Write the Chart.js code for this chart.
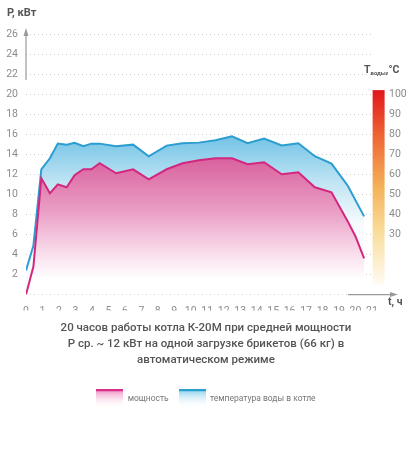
<!DOCTYPE html>
<html>
<head>
  <meta charset="utf-8">
  <title>Котёл К-20М</title>
  <script src="https://cdn.jsdelivr.net/npm/chart.js"></script>
  <style>
    html, body { margin: 0; padding: 0; background: #fff; }
    #wrap { width: 410px; height: 458px; }
  </style>
</head>
<body>
  <div id="wrap"><canvas id="chart"></canvas></div>

  <script>
    // hours of operation (readings taken off the curves)
    var hours = [0, 0.45, 0.93, 1.45, 1.93, 2.47, 2.95, 3.48, 3.97, 4.47, 5.47, 6.5, 7.45, 8.54, 9.5,
                 10.5, 11.5, 12.5, 13.45, 14.45, 15.52, 16.53, 17.53, 18.54, 19.53, 20.0, 20.52];
    // boiler power, kW (left scale)
    var powerKw = [0, 2.8, 11.6, 10.1, 11.0, 10.7, 11.9, 12.5, 12.5, 13.1, 12.1, 12.5, 11.5, 12.5, 13.1,
                   13.4, 13.6, 13.6, 13.0, 13.2, 12.0, 12.2, 10.7, 10.2, 7.3, 5.8, 3.6];
    // water temperature in the boiler, °C (right scale)
    var waterTempC = [12, 24.5, 62.5, 68, 75.3, 74.8, 75.7, 74, 75.3, 75.3, 74, 74.8, 69, 74.3, 75.5,
                      75.8, 77, 79, 75.5, 77.8, 74.4, 75.5, 69, 65.3, 54.3, 47, 39];

    var tempTicks = [30, 40, 50, 60, 70, 80, 90, 100];
    var legendLabels = ['мощность', 'температура воды в котле'];
    var titleLines = [
      '20 часов работы котла К-20М при средней мощности',
      'Р ср. ~ 12 кВт на одной загрузке брикетов (66 кг) в',
      'автоматическом режиме'
    ];

    Chart.defaults.font.family = 'Roboto';

    function points(ys) {
      return hours.map(function (h, i) { return { x: h, y: ys[i] }; });
    }

    function pinkFill(c) {
      var chart = c.chart;
      if (!chart.chartArea) return '#e98fbf';
      var y = chart.scales.y;
      var g = chart.ctx.createLinearGradient(0, y.getPixelForValue(13.5), 0, y.getPixelForValue(1.5));
      g.addColorStop(0, '#d9629e');
      g.addColorStop(0.45, '#eba1c7');
      g.addColorStop(0.8, '#fae1ee');
      g.addColorStop(1, '#ffffff');
      return g;
    }

    function blueFill(c) {
      var chart = c.chart;
      if (!chart.chartArea) return '#9fd6ee';
      var y = chart.scales.y;
      var g = chart.ctx.createLinearGradient(0, y.getPixelForValue(15.5), 0, y.getPixelForValue(7));
      g.addColorStop(0, '#78c5e7');
      g.addColorStop(0.5, '#bfe4f4');
      g.addColorStop(1, '#f7fbfd');
      return g;
    }

    // small gradient swatches for the legend
    function swatch(line, top) {
      var cv = document.createElement('canvas');
      cv.width = 27; cv.height = 19;
      var c = cv.getContext('2d');
      var g = c.createLinearGradient(0, 0, 0, 19);
      g.addColorStop(0, top);
      g.addColorStop(1, 'rgba(255,255,255,0)');
      c.fillStyle = g;
      c.fillRect(0, 0, 27, 19);
      c.fillStyle = line;
      c.fillRect(0, 0, 27, 2);
      return cv;
    }
    var swatches = [swatch('#d6308a', '#ef86bf'), swatch('#2a9fd0', '#86cfee')];

    var decor = {
      id: 'decor',
      afterDraw: function (chart) {
        var ctx = chart.ctx, a = chart.chartArea;
        var x = chart.scales.x, y = chart.scales.y, y1 = chart.scales.y1;
        ctx.save();

        // temperature colour bar
        var top = y1.getPixelForValue(102), bot = y1.getPixelForValue(5);
        var g = ctx.createLinearGradient(0, top, 0, bot);
        g.addColorStop(0, '#e0161c');
        g.addColorStop(0.25, '#ee6a36');
        g.addColorStop(0.5, '#f4b25a');
        g.addColorStop(0.72, '#f9dc98');
        g.addColorStop(1, '#fffbf3');
        ctx.fillStyle = g;
        ctx.fillRect(a.right + 0.6, top, 12, bot - top);

        // axis arrows
        ctx.strokeStyle = '#9a9a9a';
        ctx.fillStyle = '#9a9a9a';
        ctx.lineWidth = 1.2;
        var ax = x.getPixelForValue(0);
        ctx.beginPath();
        ctx.moveTo(ax, y.getPixelForValue(21.4));
        ctx.lineTo(ax, y.getPixelForValue(25.9));
        ctx.stroke();
        ctx.beginPath();
        ctx.moveTo(ax, y.getPixelForValue(26.6));
        ctx.lineTo(ax - 2.5, y.getPixelForValue(25.8));
        ctx.lineTo(ax + 2.5, y.getPixelForValue(25.8));
        ctx.fill();

        var ay = y.getPixelForValue(0);
        var xEnd = a.right + 26;
        ctx.beginPath();
        ctx.moveTo(x.getPixelForValue(19.55), ay);
        ctx.lineTo(xEnd - 7, ay);
        ctx.stroke();
        ctx.beginPath();
        ctx.moveTo(xEnd, ay);
        ctx.lineTo(xEnd - 8, ay - 2.5);
        ctx.lineTo(xEnd - 8, ay + 2.5);
        ctx.fill();

        // axis titles
        ctx.fillStyle = '#555';
        ctx.textBaseline = 'middle';
        ctx.textAlign = 'left';
        ctx.font = 'bold 11px Roboto';
        ctx.fillText('P, кВт', 7, 13);
        ctx.font = 'bold 10.5px Roboto';
        ctx.fillText('t, ч', a.right + 16, 302);

        var tx = 364;
        ctx.font = 'bold 10.5px Roboto';
        ctx.fillText('T', tx, 70);
        tx += ctx.measureText('T').width;
        ctx.font = 'bold 6px Roboto';
        ctx.fillText('воды', tx, 73.5);
        tx += ctx.measureText('воды').width;
        ctx.font = 'bold 10.5px Roboto';
        ctx.fillText(',°C', tx, 70);
        ctx.restore();
      }
    };

    function noPad(scale) {
      scale.paddingTop = 0;
      scale.paddingBottom = 0;
    }

    var ctx = document.getElementById('chart').getContext('2d');
    var chart = new Chart(ctx, {
      type: 'line',
      data: {
        datasets: [
          {
            label: legendLabels[0],
            data: points(powerKw),
            yAxisID: 'y',
            borderColor: '#d3277f',
            borderWidth: 2,
            pointRadius: 0,
            tension: 0,
            fill: 'origin',
            backgroundColor: pinkFill
          },
          {
            label: legendLabels[1],
            data: points(waterTempC),
            yAxisID: 'y1',
            borderColor: '#2b9dd0',
            borderWidth: 2,
            pointRadius: 0,
            tension: 0,
            fill: '-1',
            backgroundColor: blueFill
          }
        ]
      },
      options: {
        animation: false,
        responsive: true,
        maintainAspectRatio: false,
        layout: { padding: { left: 6, right: 4, top: 34, bottom: 45 } },
        scales: {
          x: {
            type: 'linear',
            min: 0,
            max: 21,
            grid: { display: false },
            border: { display: false },
            ticks: {
              stepSize: 1,
              autoSkip: false,
              maxRotation: 0,
              padding: 3,
              color: '#8c8c8c',
              font: { size: 10.5 }
            },
            afterFit: function (s) { s.paddingLeft = 0; s.paddingRight = 0; s.height = 16; }
          },
          y: {
            position: 'left',
            min: 0,
            max: 26,
            grid: { color: '#cdcdcd', lineWidth: 1, drawTicks: false },
            border: { display: false, dash: [1, 3] },
            ticks: {
              stepSize: 2,
              padding: 8,
              color: '#8c8c8c',
              font: { size: 10.5 },
              callback: function (v) { return v === 0 ? '' : v; }
            },
            afterFit: function (s) { noPad(s); s.width = 20; }
          },
          y1: {
            position: 'right',
            min: 0,
            max: 130,
            grid: { display: false, drawTicks: false },
            border: { display: false },
            afterBuildTicks: function (s) {
              s.ticks = tempTicks.map(function (v) { return { value: v }; });
            },
            ticks: {
              padding: 17,
              color: '#8c8c8c',
              font: { size: 10.5 }
            },
            afterFit: function (s) { noPad(s); s.width = 34; }
          }
        },
        plugins: {
          tooltip: { enabled: false },
          title: {
            display: true,
            position: 'bottom',
            text: titleLines,
            color: '#555',
            font: { size: 11.5, weight: '500', lineHeight: 1.39 },
            padding: { top: 10, bottom: 16 }
          },
          legend: {
            position: 'bottom',
            weight: 3000,
            labels: {
              usePointStyle: true,
              pointStyleWidth: 27,
              padding: 10,
              color: '#777',
              font: { size: 8.5 },
              generateLabels: function (ch) {
                return ch.data.datasets.map(function (d, i) {
                  return {
                    text: d.label,
                    pointStyle: swatches[i],
                    fillStyle: 'transparent',
                    strokeStyle: 'transparent',
                    lineWidth: 0,
                    fontColor: '#777',
                    datasetIndex: i
                  };
                });
              }
            }
          }
        }
      },
      plugins: [decor]
    });
  </script>
</body>
</html>
